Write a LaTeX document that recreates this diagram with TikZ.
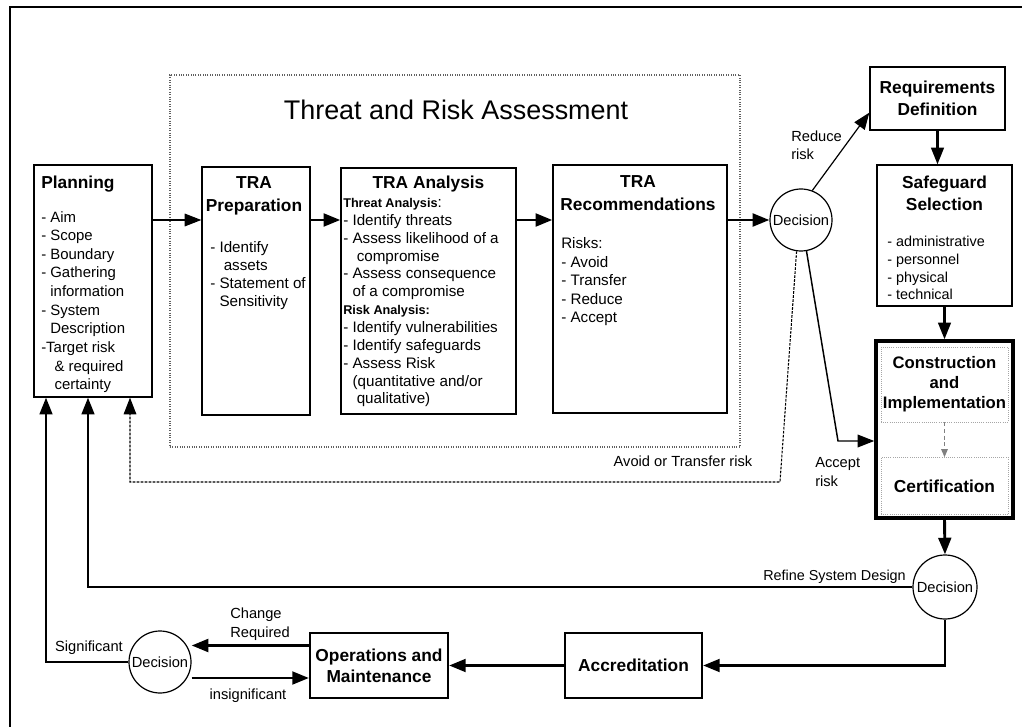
\documentclass[tikz,border=0pt]{standalone}
\usepackage{fontspec}
\setmainfont{Liberation Sans}
\usetikzlibrary{arrows.meta,calc}
\newcommand{\lind}{\hphantom{- }}
\newcommand{\subhd}[1]{{\fontsize{9.5}{13.4}\selectfont\bfseries #1}}
\begin{document}
\begin{tikzpicture}[x=0.75pt,y=-0.75pt,
  box/.style={draw,line width=1pt,inner sep=0pt},
  trabox/.style={draw,gray!75!black,line width=0.8pt,densely dotted,inner sep=0pt},
  innerbox/.style={draw,gray!70,line width=0.6pt,densely dotted,inner sep=0pt},
  decision/.style={circle,draw,line width=0.9pt,minimum size=46.5pt,inner sep=0pt,font=\fontsize{11}{13}\selectfont},
  ttl/.style={font=\fontsize{13}{17.5}\selectfont\bfseries,align=center,inner sep=0pt,anchor=base},
  lst/.style={font=\fontsize{11.4}{13.7}\selectfont,align=left,inner sep=0pt,anchor=base west},
  lbl/.style={font=\fontsize{11}{14}\selectfont,align=left,inner sep=0pt},
  tip/.style={-{Triangle[length=12.5pt,width=9.5pt]}},
  thickarrow/.style={tip,line width=2.2pt},
  midarrow/.style={tip,line width=1.8pt},
  thinarrow/.style={tip,line width=0.9pt},
  dotarrow/.style={tip,line width=0.8pt,dash pattern=on 2pt off 1pt}]
\useasboundingbox (0,0) rectangle (1022,727);
% multi-line texts are anchored on the baseline of their last line

% page frame
\draw[line width=1pt] (1022,7) -- (10,7) -- (10,727);

% Threat and Risk Assessment group
\node[trabox,minimum width=427.5pt,minimum height=279pt] (tra) at (455,261) {};
\node[font=\fontsize{20.2}{24}\selectfont] (tratitle) at (456,110) {Threat and Risk Assessment};

% boxes
\node[box,minimum width=88.5pt,minimum height=174pt] (plan) at (93,281) {};
\node[box,minimum width=81pt,minimum height=186pt] (prep) at (256,291) {};
\node[box,minimum width=131.25pt,minimum height=184.5pt] (ana) at (428.5,291) {};
\node[box,minimum width=130.5pt,minimum height=186pt] (rec) at (640,289) {};
\node[box,minimum width=101.25pt,minimum height=47.25pt] (req) at (937.5,98.5) {};
\node[box,minimum width=101.25pt,minimum height=105.75pt] (safe) at (944.5,235.5) {};
\node[box,line width=2.6pt,minimum width=102.75pt,minimum height=132.75pt] (cons) at (944.5,429.5) {};
\node[innerbox,minimum width=95.25pt,minimum height=56.25pt] (impl) at (944.5,384.5) {};
\node[innerbox,minimum width=95.25pt,minimum height=42.75pt] (cert) at (944.5,486) {};
\node[box,line width=1.6pt,minimum width=102.75pt,minimum height=48.75pt] (accr) at (633.5,665.5) {};
\node[box,line width=1.6pt,minimum width=103.5pt,minimum height=48.75pt] (ops) at (379,665.5) {};

% decision points
\node[decision] (dec1) at (801,220) {Decision};
\node[decision,minimum size=48pt] (dec2) at (945,587) {Decision};
\node[decision] (dec3) at (160,662) {Decision};

% box texts
\node[ttl,anchor=base west] (plant) at (41,189) {Planning};
\node[lst,font=\fontsize{11.2}{14}\selectfont] (planl) at (41,390) {- Aim\\- Scope\\- Boundary\\- Gathering\\\lind information\\- System\\\lind Description\\-Target risk\\\lind\ \& required\\\lind\ certainty};

\node[ttl] (prept) at (254,212) {TRA\\Preparation};
\node[lst] (prepl) at (210,307) {- Identify\\\lind\ assets\\- Statement of\\\lind Sensitivity};

\node[ttl] (anat) at (428.5,189) {TRA Analysis};
\node[lst,font=\fontsize{11.4}{13.4}\selectfont] (anal) at (343,404) {\subhd{Threat Analysis}:\\- Identify threats\\- Assess likelihood of a\\\lind\ compromise\\- Assess consequence\\\lind of a compromise\\\subhd{Risk Analysis:}\\- Identify vulnerabilities\\- Identify safeguards\\- Assess Risk\\\lind (quantitative and/or\\\lind\ qualitative)};

\node[ttl] (rect) at (638,211) {TRA\\Recommendations};
\node[lst,font=\fontsize{11.4}{13.9}\selectfont] (recl) at (561,323) {Risks:\\- Avoid\\- Transfer\\- Reduce\\- Accept};

\node[ttl,font=\fontsize{13}{16.5}\selectfont\bfseries] (reqt) at (937.5,116) {Requirements\\Definition};
\node[ttl,font=\fontsize{13}{16.5}\selectfont\bfseries] (safet) at (944.5,211) {Safeguard\\Selection};
\node[lst,font=\fontsize{10.8}{13.3}\selectfont] (safel) at (887,300) {- administrative\\- personnel\\- physical\\- technical};
\node[ttl,font=\fontsize{12.5}{15}\selectfont\bfseries] (implt) at (944.5,409) {Construction\\and\\Implementation};
\node[ttl] (certt) at (944.5,493) {Certification};
\node[ttl] (accrt) at (633.5,671) {Accreditation};
\node[ttl,font=\fontsize{13}{15.75}\selectfont\bfseries] (opst) at (379,682) {Operations and\\Maintenance};

% entry points on the bottom of Planning
\coordinate (pin1) at ([shift={(-47,0)}]plan.south);
\coordinate (pin2) at ([shift={(-5,0)}]plan.south);
\coordinate (pin3) at ([shift={(37,0)}]plan.south);
\coordinate (row) at (0,220);
\coordinate (avoidbend) at (780,482);
\coordinate (acceptbend) at (838,441);
\coordinate (chg) at ([shift={(0,-20)}]ops.west);
\coordinate (insig) at ([shift={(0,12.5)}]ops.west);

% main flow
\draw[thinarrow] (plan.east |- row) -- (prep.west |- row);
\draw[thickarrow] (prep.east |- row) -- (ana.west |- row);
\draw[thickarrow] (ana.east |- row) -- (rec.west |- row);
\draw[thickarrow] (rec.east |- dec1.west) -- (dec1.west);

% decision outcomes
\draw[thinarrow] (dec1.69) -- ($(req.north west)!0.72!(req.south west)$);
\draw[midarrow] (req.south) -- (req.south |- safe.north);
\draw[midarrow] (safe.south) -- (safe.south |- cons.north);
\draw[gray,densely dashed,line width=0.6pt,-{Triangle[length=6pt,width=5pt]}] (impl.south) -- (cert.north);
\draw[thinarrow,line width=1.1pt] (dec1.-80) -- (acceptbend) -- (cons.west |- acceptbend);
\draw[dotarrow] (dec1.-98) -- (avoidbend) -- (avoidbend -| pin3) -- (pin3);

% lower loop
\draw[thickarrow] (cons.south) -- (dec2.north);
\draw[midarrow] (dec2.west) -| (pin2);
\draw[thickarrow] (dec2.south) |- (accr.east);
\draw[thickarrow] (accr.west) -- (ops.east);
\draw[thickarrow] (chg) -- (dec3.east |- chg);
\draw[thickarrow] (dec3.east |- insig) -- (insig);
\draw[midarrow] (dec3.west) -| (pin1);

% connector labels
\node[lbl,anchor=base west] (lreduce) at (791,160) {Reduce\\risk};
\node[lbl,anchor=base] (lavoid) at (683,467) {Avoid or Transfer risk};
\node[lbl,anchor=base west] (laccept) at (815,486) {Accept\\risk};
\node[lbl,font=\fontsize{10.8}{13}\selectfont,anchor=base east] (lrefine) at (906,580) {Refine System Design};
\node[lbl,anchor=base west] (lchange) at (230,637) {Change\\Required};
\node[lbl,anchor=base] (linsig) at (248,699) {insignificant};
\node[lbl,anchor=base] (lsig) at (89,651) {Significant};
\end{tikzpicture}
\end{document}
